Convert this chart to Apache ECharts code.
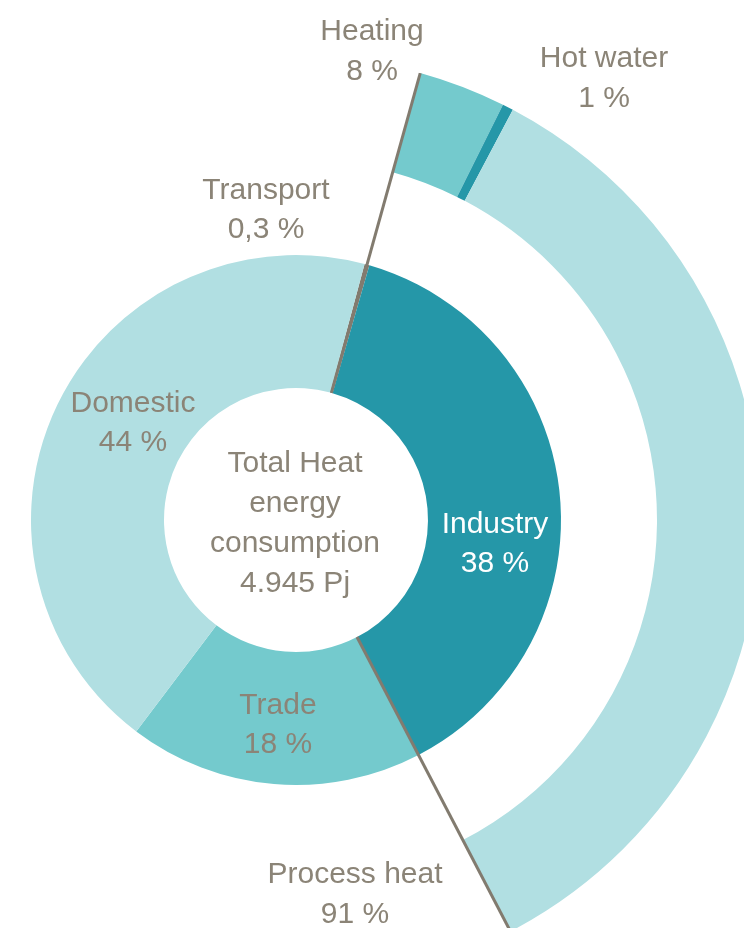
<!DOCTYPE html>
<html>
<head>
<meta charset="utf-8">
<style>
  html, body { margin: 0; padding: 0; background: #ffffff; }
  #chart { width: 744px; height: 928px; }
</style>
<script src="https://cdn.jsdelivr.net/npm/echarts@6/dist/echarts.min.js"></script>
</head>
<body>
<div id="chart"></div>
<script>
// ---- data ----
const innerNames = ['Transport', 'Industry', 'Trade', 'Domestic'];
const innerValues = [0.3, 38, 18, 44];
const outerNames = ['Heating', 'Hot water', 'Process heat'];
const outerValues = [8, 1, 91];
const centerLines = ['Total Heat', 'energy', 'consumption', '4.945 Pj'];

// ---- style / layout ----
const innerColors = ['#827b6f', '#2597a8', '#74cacd', '#b1dfe2'];
const outerColors = ['#74cacd', '#2597a8', '#b1dfe2'];
const innerLabelColors = ['#8b8477', '#ffffff', '#8b8477', '#8b8477'];
const innerLabelPos = [[266, 210], [495, 544], [278, 725], [133, 423]];
const outerLabelPos = [[372, 52], [604, 79], [355, 895]];
const TEXT = '#8b8477';
const LINE = '#827b6f';
const FONT = "'Liberation Sans', Arial, sans-serif";
const CX = 296, CY = 520;
const R_IN0 = 132, R_IN1 = 265, R_OUT0 = 361, R_OUT1 = 464;
const ROT = 15; // degrees clockwise from 12 o'clock where the inner ring starts

const total = innerValues.reduce((a, b) => a + b, 0);
const deg = 360 / total;
const lineA = ROT + innerValues[0] * deg / 2;                 // transport slice
const lineB = ROT + (innerValues[0] + innerValues[1]) * deg;  // end of industry

function fmt(p) {
  return p.name + '\n' + String(p.value).replace('.', ',') + ' %';
}

const chart = echarts.init(document.getElementById('chart'), null, { renderer: 'canvas' });
const option = {
  animation: false,
  backgroundColor: '#ffffff',
  polar: { center: [CX, CY], radius: [0, R_OUT1] },
  radiusAxis: { type: 'value', min: 0, max: R_OUT1, show: false,
    axisLine: { show: false }, axisTick: { show: false }, axisLabel: { show: false }, splitLine: { show: false } },
  angleAxis: { type: 'value', min: 0, max: 360, startAngle: 90, clockwise: true, show: false,
    axisLine: { show: false }, axisTick: { show: false }, axisLabel: { show: false }, splitLine: { show: false } },
  graphic: [{
    type: 'text', x: CX - 1, y: CY + 4, z: 10,
    style: {
      text: centerLines.join('\n'), align: 'center', verticalAlign: 'middle',
      fontSize: 30, lineHeight: 40, fontFamily: FONT, fill: TEXT
    }
  }],
  series: [
    {
      type: 'pie', name: 'inner', silent: true,
      center: [CX, CY], radius: [R_IN0, R_IN1],
      startAngle: 90 - ROT, clockwise: true, avoidLabelOverlap: false,
      itemStyle: { borderWidth: 0 },
      label: { show: true, position: 'inside', rotate: 0, formatter: fmt,
        fontSize: 30, lineHeight: 39, fontFamily: FONT, color: TEXT, align: 'center' },
      labelLine: { show: false },
      labelLayout: p => ({ x: innerLabelPos[p.dataIndex][0], y: innerLabelPos[p.dataIndex][1], align: 'center', verticalAlign: 'middle' }),
      data: innerNames.map((n, i) => ({
        name: n, value: innerValues[i],
        itemStyle: { color: innerColors[i] },
        label: { color: innerLabelColors[i] }
      }))
    },
    {
      type: 'pie', name: 'outer', silent: true,
      center: [CX, CY], radius: [R_OUT0, R_OUT1],
      startAngle: 90 - lineA, endAngle: 90 - lineB, clockwise: true, avoidLabelOverlap: false,
      itemStyle: { borderWidth: 0 },
      label: { show: true, position: 'outside', formatter: fmt,
        fontSize: 30, lineHeight: 40, fontFamily: FONT, color: TEXT, align: 'center' },
      labelLine: { show: false },
      labelLayout: p => ({ x: outerLabelPos[p.dataIndex][0], y: outerLabelPos[p.dataIndex][1], align: 'center', verticalAlign: 'middle' }),
      data: outerNames.map((n, i) => ({
        name: n, value: outerValues[i],
        itemStyle: { color: outerColors[i] }
      }))
    },
    {
      type: 'line', coordinateSystem: 'polar', silent: true, z: 5,
      symbol: 'none', lineStyle: { color: LINE, width: 3 },
      data: [[R_IN0, lineA], [R_OUT1, lineA]]
    },
    {
      type: 'line', coordinateSystem: 'polar', silent: true, z: 5,
      symbol: 'none', lineStyle: { color: LINE, width: 3 },
      data: [[R_IN0, lineB], [R_OUT1 + 10, lineB]]
    }
  ]
};
chart.setOption(option);
</script>
</body>
</html>
